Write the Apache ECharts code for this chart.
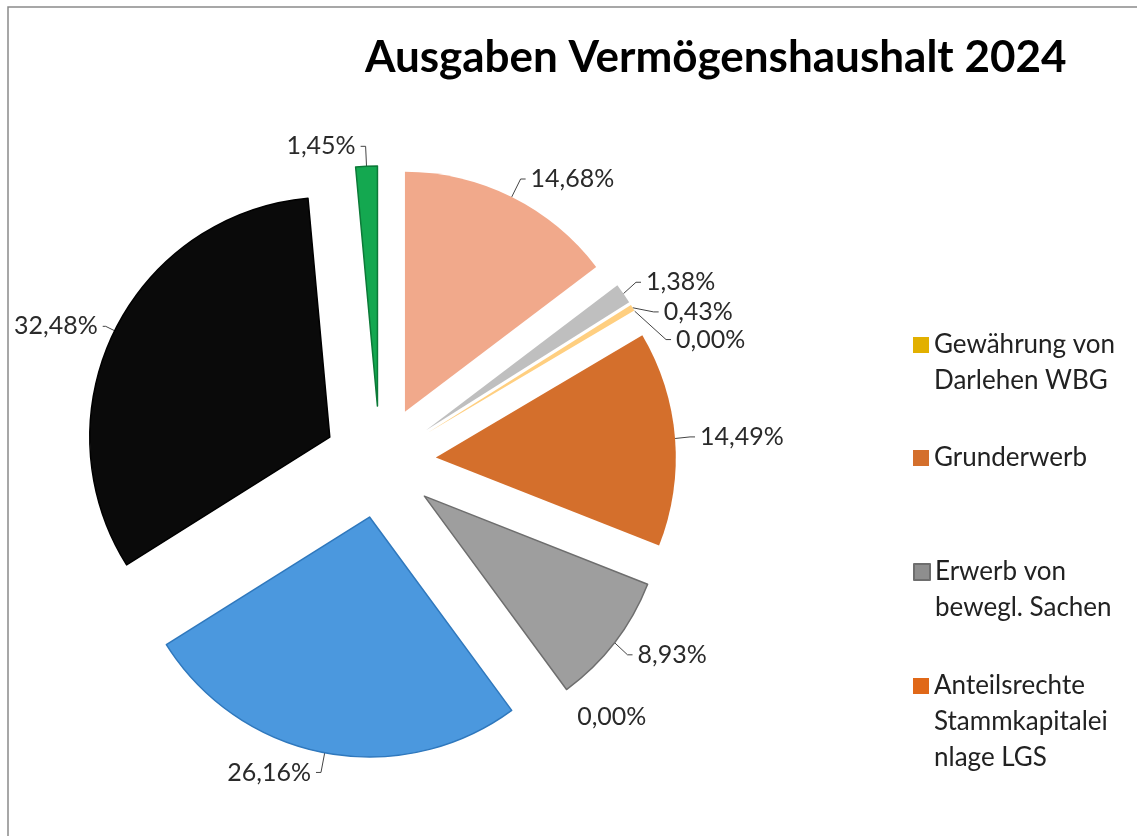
<!DOCTYPE html>
<html lang="de">
  <head>
    <meta charset="UTF-8" />
    <title>Ausgaben Vermögenshaushalt 2024</title>
    <script src="https://cdn.jsdelivr.net/npm/echarts@6/dist/echarts.min.js"></script>
    <style>
      html, body { margin: 0; padding: 0; background: #fff; }
    </style>
  </head>
  <body>
    <div id="chart" style="width: 1137px; height: 836px"></div>
    <script>
      // slices in clockwise order starting at 12 o'clock
      const sliceNames = [
        'Posten A',
        'Posten B',
        'Gewährung von Darlehen WBG',
        'Posten C',
        'Grunderwerb',
        'Erwerb von bewegl. Sachen',
        'Anteilsrechte Stammkapitaleinlage LGS',
        'Posten D',
        'Posten E',
        'Posten F'
      ];
      const sliceValues = [14.68, 1.38, 0.43, 0.0, 14.49, 8.93, 0.0, 26.16, 32.48, 1.45];
      const sliceColors = ['#F1A98B', '#BFBFBF', '#FFCF80', '#E8A040', '#D46F2C', '#9E9E9E', '#E46C1C', '#4B98DE', '#0A0A0A', '#14A850'];
      const sliceEdges = [null, null, null, null, null, '#6e6e6e', null, '#2f78bd', '#000000', '#0c7a38'];

      // legend as shown (cut off in the original)
      const legendNames = ['Gewährung von Darlehen WBG', 'Grunderwerb', 'Erwerb von bewegl. Sachen', 'Anteilsrechte Stammkapitaleinlage LGS'];
      const legendLabels = ['Gewährung von\nDarlehen WBG', 'Grunderwerb', 'Erwerb von\nbewegl. Sachen', 'Anteilsrechte\nStammkapitalei\nnlage LGS'];
      const legendColors = ['#E2B000', '#D46F2C', '#8E8E8E', '#E06818'];

      const chart = echarts.init(document.getElementById('chart'));
      const font = 'Lato, "Open Sans", sans-serif';
      const lineH = 36;
      const legendTops = [291, 440, 518, 596];

      let data = sliceValues.map(function (v, i) {
        let style = { color: sliceColors[i] };
        if (sliceEdges[i]) {
          style.borderColor = sliceEdges[i];
          style.borderWidth = 1.5;
        }
        let item = {
          name: sliceNames[i],
          value: v,
          selected: true,
          itemStyle: style
        };
        if (i === 6) {
          item.labelLine = { show: false };
        }
        if (i === 8) {
          item.labelLine = { length: 10, length2: 3 };
        }
        return item;
      });

      let legends = legendNames.map(function (name, i) {
        let lines = legendLabels[i].split('\n').length;
        return {
          left: 913,
          top: legendTops[i],
          orient: 'vertical',
          padding: 0,
          itemWidth: 16,
          itemHeight: 16,
          itemGap: 0,
          textGap: 10,
          selectedMode: false,
          icon: 'rect',
          data: [{ name: name, itemStyle: { color: legendColors[i] } }],
          formatter: function () {
            // leading blank lines keep the icon level with the first text line
            return '\n'.repeat(lines - 1) + legendLabels[i];
          },
          textStyle: {
            fontFamily: font,
            fontSize: 26,
            color: '#222',
            lineHeight: lineH
          }
        };
      });

      let option = {
        animation: false,
        title: {
          text: 'Ausgaben Vermögenshaushalt 2024',
          left: 360,
          top: 31,
          textStyle: { fontFamily: font, fontSize: 44, fontWeight: 'bold', color: '#000' }
        },
        legend: legends,
        graphic: [
          {
            type: 'rect',
            shape: { x: 8, y: 7, width: 1150, height: 850 },
            style: { fill: 'none', stroke: '#8a8a8a', lineWidth: 1.5 },
            silent: true
          }
        ],
        series: [
          {
            type: 'pie',
            center: [380, 462],
            radius: 240,
            startAngle: 90,
            clockwise: true,
            selectedMode: 'multiple',
            selectedOffset: 56,
            avoidLabelOverlap: true,
            data: data,
            label: {
              show: true,
              position: 'outside',
              fontFamily: font,
              fontSize: 25,
              color: '#2a2a2a',
              formatter: function (p) {
                return p.value.toFixed(2).replace('.', ',') + '%';
              }
            },
            labelLine: {
              show: true,
              length: 20,
              length2: 5,
              lineStyle: { color: '#444', width: 1 }
            },
            emphasis: { disabled: true },
            select: { disabled: false }
          }
        ]
      };

      chart.setOption(option);
    </script>
  </body>
</html>
